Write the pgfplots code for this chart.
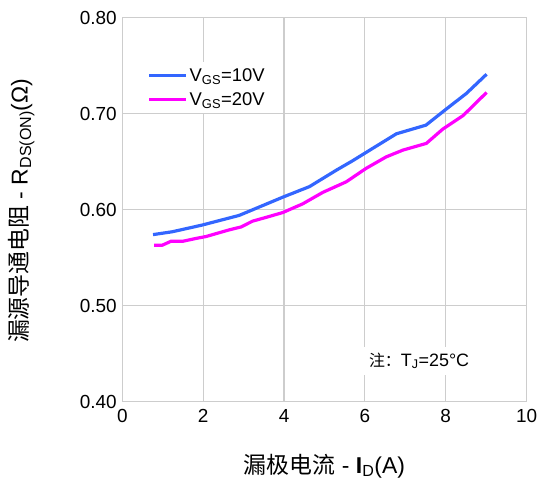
\documentclass[border=0pt]{standalone}
\usepackage{fontspec}
\setmainfont{Liberation Sans}
\newfontfamily\cjk{Noto Sans CJK SC}
\usepackage{pgfplots}
\pgfplotsset{compat=1.18}

\definecolor{vblue}{RGB}{51,102,255}
\definecolor{vmag}{RGB}{255,0,255}
\definecolor{gridgray}{RGB}{205,205,205}

\begin{document}
\begin{tikzpicture}
\useasboundingbox (-122.3bp,-77.3bp) rectangle (417.7bp,401.7bp);
\begin{axis}[
    at={(0,0)}, anchor=south west,
    scale only axis,
    width=404.3bp, height=384.1bp,
    xmin=0, xmax=10, ymin=0.4, ymax=0.8,
    xtick={0,2,...,10},
    ytick={0.4,0.5,0.6,0.7,0.8},
    yticklabel style={/pgf/number format/fixed, /pgf/number format/fixed zerofill,
        /pgf/number format/precision=2, xshift=-2bp},
    /pgf/number format/assume math mode=true,
    tick style={draw=none},
    ticklabel style={font=\fontsize{19}{22}\selectfont},
    xticklabel style={yshift=-4bp},
    axis line style={gridgray, line width=1.2bp},
    grid=major,
    major grid style={gridgray, line width=1.2bp},
    xlabel={{\cjk 漏极电流}\ -\ \textbf{I}\textsubscript{D}(A)},
    ylabel={{\cjk 漏源导通电阻}\ -\ R\textsubscript{DS(ON)}(Ω)},
    label style={font=\fontsize{23}{26}\selectfont, inner sep=0pt},
    xlabel style={at={(axis description cs:0.5,-0.167)}, anchor=center},
    ylabel style={at={(axis description cs:-0.2495,0.497)}, anchor=center},
    legend style={at={(axis description cs:0.047,0.884)}, anchor=north west,
        draw=none, fill=white, font=\fontsize{18.5}{21}\selectfont,
        row sep=6bp, inner xsep=6bp, inner ysep=4bp},
    legend cell align=left,
    legend image code/.code={\draw[#1] (0bp,0bp) -- (37bp,0bp);},
]
\addplot[vblue, line width=3.2bp] coordinates {
    (0.76,0.574) (1.24,0.577) (1.98,0.584) (2.89,0.594) (3.97,0.613)
    (4.63,0.624) (5.29,0.641) (5.70,0.651) (6.20,0.664) (6.78,0.679)
    (7.51,0.688) (8.02,0.705) (8.51,0.721) (9.01,0.741)
};
\addlegendentry{V\textsubscript{GS}=10V}
\addplot[vmag, line width=3.2bp] coordinates {
    (0.79,0.563) (0.99,0.563) (1.20,0.567) (1.49,0.567) (1.82,0.570)
    (2.07,0.572) (2.40,0.576) (2.65,0.579) (2.94,0.582) (3.22,0.588)
    (3.56,0.592) (3.97,0.597) (4.46,0.606) (4.96,0.618) (5.54,0.629)
    (6.03,0.643) (6.53,0.655) (6.94,0.662) (7.52,0.669) (7.93,0.684)
    (8.43,0.698) (9.01,0.722)
};
\addlegendentry{V\textsubscript{GS}=20V}
\node[fill=white, anchor=west, inner xsep=8bp, inner ysep=6bp,
      font=\fontsize{18}{21}\selectfont]
    at (axis cs:5.9,0.4425) {{\cjk\fontsize{16}{19}\selectfont 注：}T\textsubscript{J}=25°C};
\end{axis}
\end{tikzpicture}
\end{document}
